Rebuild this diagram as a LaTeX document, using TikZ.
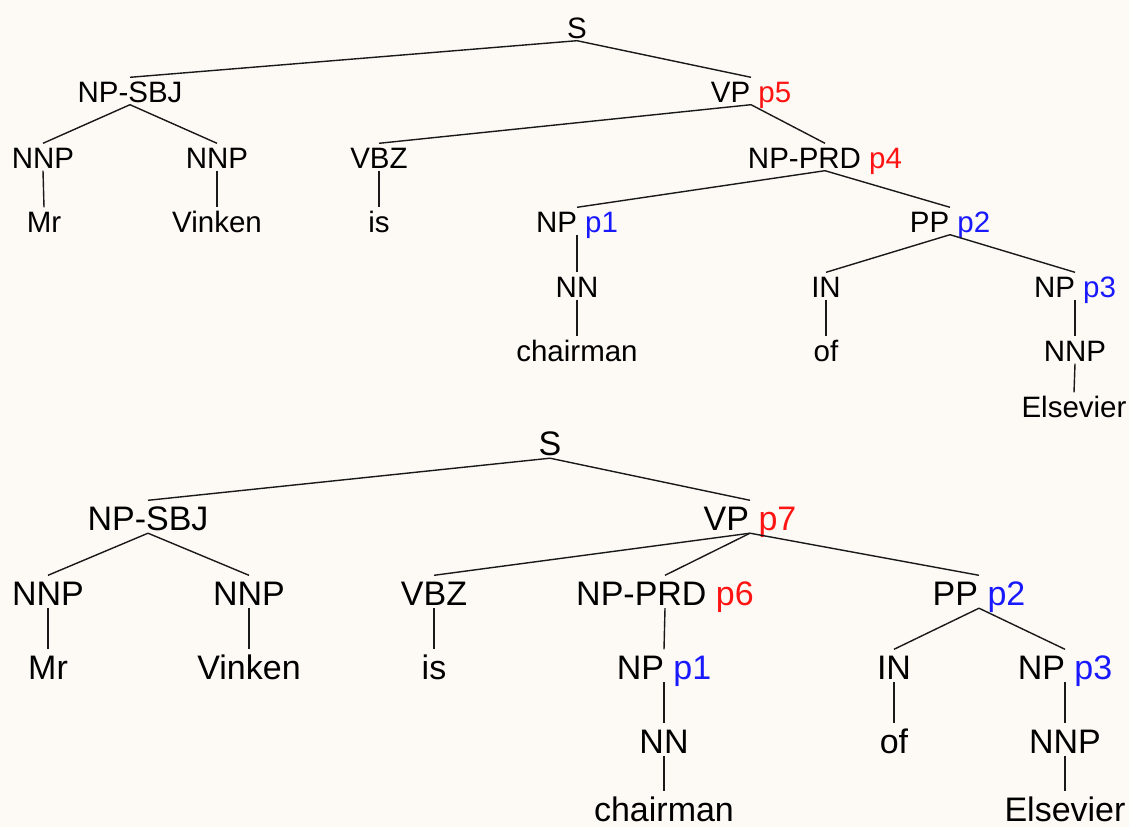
\documentclass[tikz,border=0pt]{standalone}
\usepackage{fontspec}
\setmainfont{Liberation Sans}
\definecolor{paper}{RGB}{253,250,245}
\definecolor{annred}{RGB}{255,20,20}
\definecolor{annblue}{RGB}{25,25,255}
\newcommand\annR[1]{\textcolor{annred}{#1}}
\newcommand\annB[1]{\textcolor{annblue}{#1}}
\tikzset{
  treelabel/.style={anchor=base, inner xsep=0pt, text depth=0pt, text=black},
  upper/.style={treelabel, font=\fontsize{29.5pt}{32pt}\selectfont, text height=22pt, inner ysep=2.5pt},
  lower/.style={treelabel, font=\fontsize{34pt}{37pt}\selectfont, text height=26.5pt, inner ysep=3pt},
  branch/.style={draw=black!90, line width=1.4pt},
}
\begin{document}
\begin{tikzpicture}[x=1pt, y=-1pt]
\fill[paper] (0,0) rectangle (1129,827);
\useasboundingbox (0,0) rectangle (1129,827);

% ---------- first tree ----------
\begin{scope}[every node/.style={upper}]
  \node (aS)     at (577,38)   {S};
  \node (aNPSBJ) at (130,102)  {NP-SBJ};
  \node (aVP)    at (751,102)  {VP \annR{p5}};
  \node (aNNPa)  at (43,168)   {NNP};
  \node (aNNPb)  at (217,168)  {NNP};
  \node (aVBZ)   at (379,168)  {VBZ};
  \node (aNPPRD) at (825,168)  {NP-PRD \annR{p4}};
  \node (aMr)    at (44,232)   {Mr};
  \node (aVinken) at (217,232) {Vinken};
  \node (ais)    at (379,232)  {is};
  \node (aNP)    at (577,232)  {NP \annB{p1}};
  \node (aPP)    at (950,232)  {PP \annB{p2}};
  \node (aNN)    at (577,297)  {NN};
  \node (aIN)    at (826,297)  {IN};
  \node (aNPc)   at (1075,297) {NP \annB{p3}};
  \node (achair) at (577,361)  {chairman};
  \node (aof)    at (826,361)  {of};
  \node (aNNPc)  at (1075,361) {NNP};
  \node (aElse)  at (1074,417) {Elsevier};
\end{scope}
\draw[branch] (aS.south) -- (aNPSBJ.north);
\draw[branch] (aS.south) -- (aVP.north);
\draw[branch] (aNPSBJ.south) -- (aNNPa.north);
\draw[branch] (aNPSBJ.south) -- (aNNPb.north);
\draw[branch] (aNNPa.south) -- (aMr.north);
\draw[branch] (aNNPb.south) -- (aVinken.north);
\draw[branch] (aVP.south) -- (aVBZ.north);
\draw[branch] (aVP.south) -- (aNPPRD.north);
\draw[branch] (aVBZ.south) -- (ais.north);
\draw[branch] (aNPPRD.south) -- (aNP.north);
\draw[branch] (aNPPRD.south) -- (aPP.north);
\draw[branch] (aNP.south) -- (aNN.north);
\draw[branch] (aNN.south) -- (achair.north);
\draw[branch] (aPP.south) -- (aIN.north);
\draw[branch] (aPP.south) -- (aNPc.north);
\draw[branch] (aIN.south) -- (aof.north);
\draw[branch] (aNPc.south) -- (aNNPc.north);
\draw[branch] (aNNPc.south) -- (aElse.north);

% ---------- second tree ----------
\begin{scope}[every node/.style={lower}]
  \node (bS)     at (550,455)  {S};
  \node (bNPSBJ) at (148,530)  {NP-SBJ};
  \node (bVP)    at (750,530)  {VP \annR{p7}};
  \node (bNNPa)  at (48,605)   {NNP};
  \node (bNNPb)  at (249,605)  {NNP};
  \node (bVBZ)   at (434,605)  {VBZ};
  \node (bNPPRD) at (665,605)  {NP-PRD \annR{p6}};
  \node (bPP)    at (979,605)  {PP \annB{p2}};
  \node (bMr)    at (48,679)   {Mr};
  \node (bVinken) at (249,679) {Vinken};
  \node (bis)    at (434,679)  {is};
  \node (bNP)    at (664,679)  {NP \annB{p1}};
  \node (bIN)    at (894,679)  {IN};
  \node (bNPc)   at (1065,679) {NP \annB{p3}};
  \node (bNN)    at (664,753)  {NN};
  \node (bof)    at (894,753)  {of};
  \node (bNNPc)  at (1065,753) {NNP};
  \node (bchair) at (664,821)  {chairman};
  \node (bElse)  at (1065,821) {Elsevier};
\end{scope}
\draw[branch] (bS.south) -- (bNPSBJ.north);
\draw[branch] (bS.south) -- (bVP.north);
\draw[branch] (bNPSBJ.south) -- (bNNPa.north);
\draw[branch] (bNPSBJ.south) -- (bNNPb.north);
\draw[branch] (bNNPa.south) -- (bMr.north);
\draw[branch] (bNNPb.south) -- (bVinken.north);
\draw[branch] (bVP.south) -- (bVBZ.north);
\draw[branch] (bVP.south) -- (bNPPRD.north);
\draw[branch] (bVP.south) -- (bPP.north);
\draw[branch] (bVBZ.south) -- (bis.north);
\draw[branch] (bNPPRD.south) -- (bNP.north);
\draw[branch] (bNP.south) -- (bNN.north);
\draw[branch] (bNN.south) -- (bchair.north);
\draw[branch] (bPP.south) -- (bIN.north);
\draw[branch] (bPP.south) -- (bNPc.north);
\draw[branch] (bIN.south) -- (bof.north);
\draw[branch] (bNPc.south) -- (bNNPc.north);
\draw[branch] (bNNPc.south) -- (bElse.north);
\end{tikzpicture}
\end{document}
